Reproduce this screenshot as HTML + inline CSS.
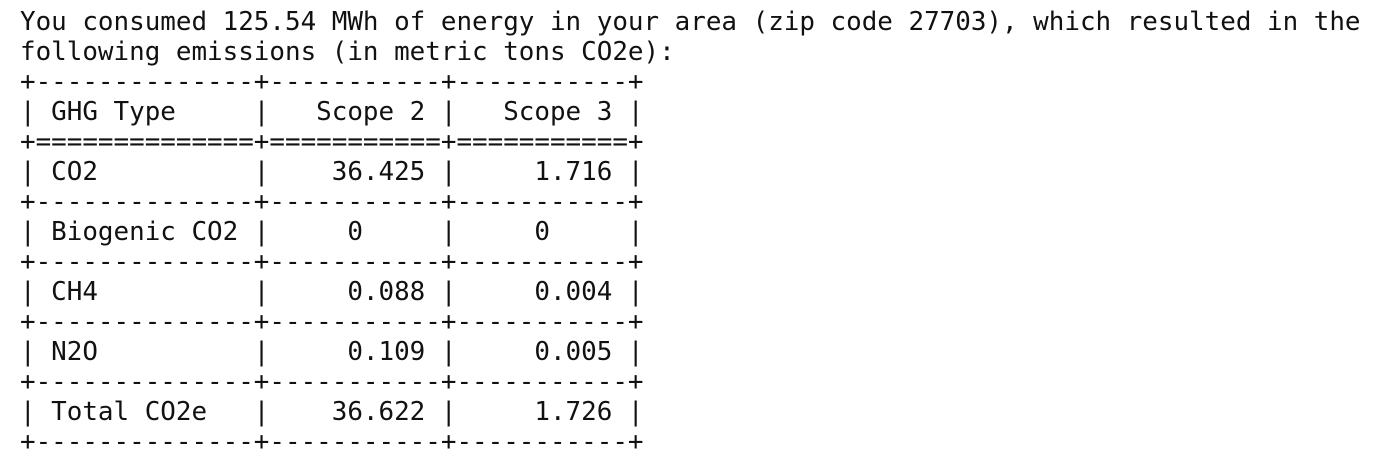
<!DOCTYPE html>
<html>
<head>
<meta charset="utf-8">
<style>
  html, body { margin: 0; padding: 0; background: #ffffff; }
  body { width: 1382px; height: 462px; overflow: hidden; position: relative; }
  pre {
    position: absolute; left: 20px; top: 7px; margin: 0;
    font-family: "DejaVu Sans Mono", "Liberation Mono", monospace;
    font-size: 25.9px; line-height: 30px; color: #111;
    white-space: pre;
  }
</style>
</head>
<body>
<pre><span>You consumed 125.54 MWh of energy in your area (zip code 27703), which resulted in the
following emissions (in metric tons CO2e):</span>
<span>+--------------+-----------+-----------+
| GHG Type     |   Scope 2 |   Scope 3 |
+==============+===========+===========+
| CO2          |    36.425 |     1.716 |
+--------------+-----------+-----------+
| Biogenic CO2 |     0     |     0     |
+--------------+-----------+-----------+
| CH4          |     0.088 |     0.004 |
+--------------+-----------+-----------+
| N2O          |     0.109 |     0.005 |
+--------------+-----------+-----------+
| Total CO2e   |    36.622 |     1.726 |
+--------------+-----------+-----------+</span></pre>
</body>
</html>
